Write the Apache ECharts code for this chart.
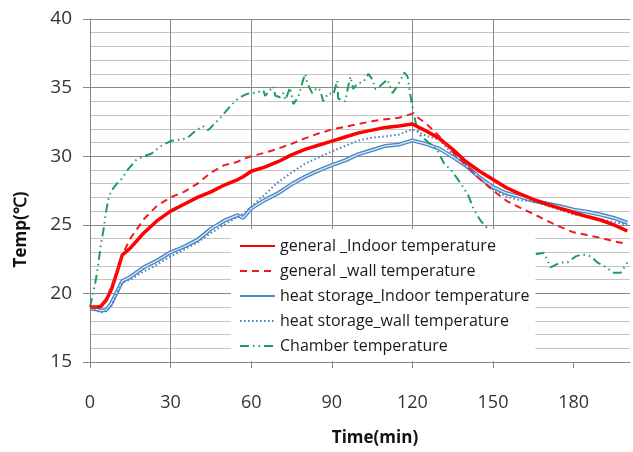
<!DOCTYPE html>
<html>
<head>
<meta charset="utf-8">
<script src="https://cdn.jsdelivr.net/npm/echarts@6/dist/echarts.min.js"></script>
<style>
  html, body { margin: 0; padding: 0; background: #fff; }
  #chart { width: 633px; height: 452px; }
</style>
</head>
<body>
<div id="chart"></div>
<script>
// time (min) shared by the four room / wall curves
const times = [0, 2, 4, 6, 8, 10, 12, 15, 20, 25, 30, 35, 40, 45, 50, 55, 57, 60, 65, 70, 75, 80, 85, 90, 95, 100,
  105, 110, 115, 120, 125, 130, 135, 140, 145, 150, 155, 160, 165, 170, 175, 180, 185, 190, 195, 200];

const genIndoor = [19.0, 19.0, 19.05, 19.5, 20.3, 21.5, 22.8, 23.3, 24.4, 25.3, 26.0, 26.5, 27.0, 27.4, 27.9, 28.3, 28.5, 28.9, 29.2, 29.6,
  30.1, 30.5, 30.8, 31.1, 31.4, 31.7, 31.9, 32.1, 32.2, 32.35, 31.85, 31.3, 30.5, 29.6, 28.9, 28.3, 27.7, 27.25,
  26.85, 26.5, 26.2, 25.9, 25.6, 25.35, 25.0, 24.55];

const genWall = [19.0, 19.0, 19.1, 19.6, 20.5, 21.6, 22.8, 24.0, 25.4, 26.4, 27.0, 27.4, 28.0, 28.8, 29.35, 29.6, 29.8, 30.0, 30.25, 30.55,
  30.9, 31.3, 31.65, 31.95, 32.15, 32.35, 32.55, 32.7, 32.8, 33.1, 32.4, 31.45, 30.3, 29.35, 28.35, 27.5, 26.75,
  26.25, 25.8, 25.3, 24.85, 24.45, 24.25, 24.05, 23.8, 23.6];

const hsIndoor = [18.9, 18.85, 18.75, 18.8, 19.3, 20.1, 20.9, 21.2, 21.9, 22.4, 23.0, 23.4, 23.9, 24.7, 25.3, 25.7, 25.5, 26.2, 26.8, 27.3,
  27.95, 28.5, 28.95, 29.35, 29.7, 30.15, 30.45, 30.75, 30.85, 31.15, 30.9, 30.55, 29.95, 29.3, 28.45, 27.75,
  27.3, 27.05, 26.75, 26.55, 26.35, 26.1, 25.95, 25.75, 25.5, 25.15];

const hsWall = [18.9, 18.8, 18.6, 18.7, 19.1, 20.0, 20.8, 21.0, 21.6, 22.1, 22.7, 23.2, 23.7, 24.4, 25.0, 25.6, 25.8, 26.3, 27.2, 28.1,
  28.8, 29.45, 29.9, 30.35, 30.75, 31.15, 31.35, 31.45, 31.58, 31.95, 31.5, 31.2, 30.15, 29.3, 28.35, 27.6,
  27.05, 26.8, 26.7, 26.4, 26.1, 25.75, 25.6, 25.4, 25.2, 25.0];

// chamber air, logged more densely
const chamberTime = [0, 0.5, 1, 2, 3, 4, 5, 6, 7, 8, 10, 12, 14, 17, 20, 23, 26, 30, 33, 36, 39, 42, 44, 46, 49, 52, 55, 58,
  59.6, 61.5, 64.5, 65.2, 67.1, 68.2, 69, 70.8, 72, 72.7, 74.5, 75.7, 77.5, 79.4, 80.1, 80.9, 82.7, 84.6, 85.7,
  86.8, 88.7, 90.6, 92, 92.4, 95, 96.9, 98, 99.5, 101.7, 103.6, 105.1, 106.2, 107.3, 110.7, 112.6, 114, 115.5,
  117, 118.2, 119.3, 120.4, 121.5, 123, 126, 129.2, 131.7, 134.8, 138.4, 140.9, 142.9, 145.4, 148.5, 152, 156,
  160, 163, 165.9, 169, 171.4, 175, 177.7, 180.8, 183.3, 186.4, 188.9, 191.3, 195, 197.5, 200];
const chamberTemp = [19.0, 19.1, 19.9, 20.8, 22.0, 23.5, 24.6, 26.0, 27.0, 27.5, 28.0, 28.4, 29.0, 29.7, 30.0, 30.2, 30.7, 31.1, 31.2,
  31.3, 31.8, 32.2, 31.9, 32.3, 32.9, 33.6, 34.2, 34.5,
  34.6, 34.6, 34.8, 34.4, 34.85, 35.1, 34.4, 34.3, 34.6, 34.1, 35.0, 33.8, 34.3, 35.6, 36.0, 35.3, 34.6, 35.0, 34.8,
  34.0, 34.6, 34.5, 35.5, 34.2, 34.0, 35.8, 34.9, 35.3, 35.4, 36.0, 35.6, 34.9, 35.0, 35.6, 34.6, 35.0, 35.5,
  36.1, 35.8, 34.4, 33.2, 32.2, 31.5, 31.0, 30.5, 29.5, 28.9, 27.9, 27.1, 26.1, 25.3, 24.6, 23.9, 23.4,
  23.0, 22.9, 22.85, 22.97, 21.9, 22.25, 22.25, 22.7, 22.85, 22.7, 22.25, 22.0, 21.5, 21.5, 22.25];

const xTicks = [0, 30, 60, 90, 120, 150, 180];
const seriesNames = [
  'general _Indoor temperature',
  'general _wall temperature',
  'heat storage_Indoor temperature',
  'heat storage_wall temperature',
  'Chamber temperature'
];

function pairs(xs, ys) {
  return xs.map((x, i) => [x, ys[i]]);
}

const chart = echarts.init(document.getElementById('chart'));

const lineBase = { type: 'line', showSymbol: false, symbol: 'none', animation: false, smooth: false };

chart.setOption({
  backgroundColor: '#fff',
  textStyle: { fontFamily: 'Open Sans' },
  grid: { left: 90, right: 3, top: 19, bottom: 89, containLabel: false },
  legend: {
    orient: 'vertical',
    left: 231,
    top: 229,
    padding: [9, 6, 7, 8],
    itemWidth: 35,
    itemHeight: 14,
    itemGap: 9,
    backgroundColor: '#fff',
    itemStyle: { opacity: 0 },
    textStyle: { fontSize: 16, color: '#1a1a1a', fontFamily: 'Open Sans' },
    data: seriesNames
  },
  xAxis: {
    type: 'value',
    min: 0,
    max: 201,
    interval: 30,
    name: 'Time(min)',
    nameLocation: 'middle',
    nameGap: 68,
    nameTextStyle: { fontSize: 17, fontWeight: 'bold', color: '#111', padding: [0, 0, 0, 30] },
    axisLine: { show: true, onZero: false, lineStyle: { color: '#888', width: 1 } },
    axisTick: { show: true, length: 6, customValues: xTicks, lineStyle: { color: '#888' } },
    axisLabel: { margin: 32, fontSize: 18, color: '#333', customValues: xTicks },
    splitLine: { show: true, showMaxLine: false, lineStyle: { color: '#8a8a8a', width: 1 } }
  },
  yAxis: {
    type: 'value',
    min: 15,
    max: 40,
    interval: 5,
    name: 'Temp(℃)',
    nameLocation: 'middle',
    nameGap: 60,
    nameTextStyle: { fontSize: 17, fontWeight: 'bold', color: '#111', padding: [0, 78, 0, 0] },
    axisLine: { show: true, lineStyle: { color: '#888', width: 1 } },
    axisTick: { show: true, length: 7, lineStyle: { color: '#888' } },
    axisLabel: { margin: 18, fontSize: 19, color: '#333' },
    splitLine: { show: true, lineStyle: { color: '#8a8a8a', width: 1 } },
    minorTick: { show: false, splitNumber: 5 },
    minorSplitLine: { show: true, lineStyle: { color: '#c4c4c4', width: 1 } }
  },
  series: [
    {
      ...lineBase,
      name: seriesNames[0],
      data: pairs(times, genIndoor),
      lineStyle: { color: '#ff0000', width: 3.5 },
      itemStyle: { color: '#ff0000' },
      z: 3
    },
    {
      ...lineBase,
      name: seriesNames[1],
      data: pairs(times, genWall),
      lineStyle: { color: '#f01c1c', width: 2, type: [7, 5] },
      itemStyle: { color: '#f01c1c' },
      z: 3
    },
    {
      ...lineBase,
      name: seriesNames[2],
      data: pairs(times, hsIndoor),
      lineStyle: { color: '#4a86c5', width: 4 },
      itemStyle: { color: '#4a86c5' },
      z: 2
    },
    {
      // light core of the double line
      ...lineBase,
      name: seriesNames[2],
      data: pairs(times, hsIndoor),
      lineStyle: { color: '#dcebf8', width: 1.3 },
      itemStyle: { color: '#dcebf8' },
      z: 2
    },
    {
      ...lineBase,
      name: seriesNames[3],
      data: pairs(times, hsWall),
      lineStyle: { color: '#4a7fc0', width: 2, type: [1.5, 2.5] },
      itemStyle: { color: '#4a7fc0' },
      z: 2
    },
    {
      ...lineBase,
      name: seriesNames[4],
      data: pairs(chamberTime, chamberTemp),
      lineStyle: { color: '#1e9e5a', width: 2, type: [9, 4, 1.5, 4, 1.5, 4] },
      itemStyle: { color: '#1e9e5a' },
      z: 2
    }
  ]
});
</script>
</body>
</html>
